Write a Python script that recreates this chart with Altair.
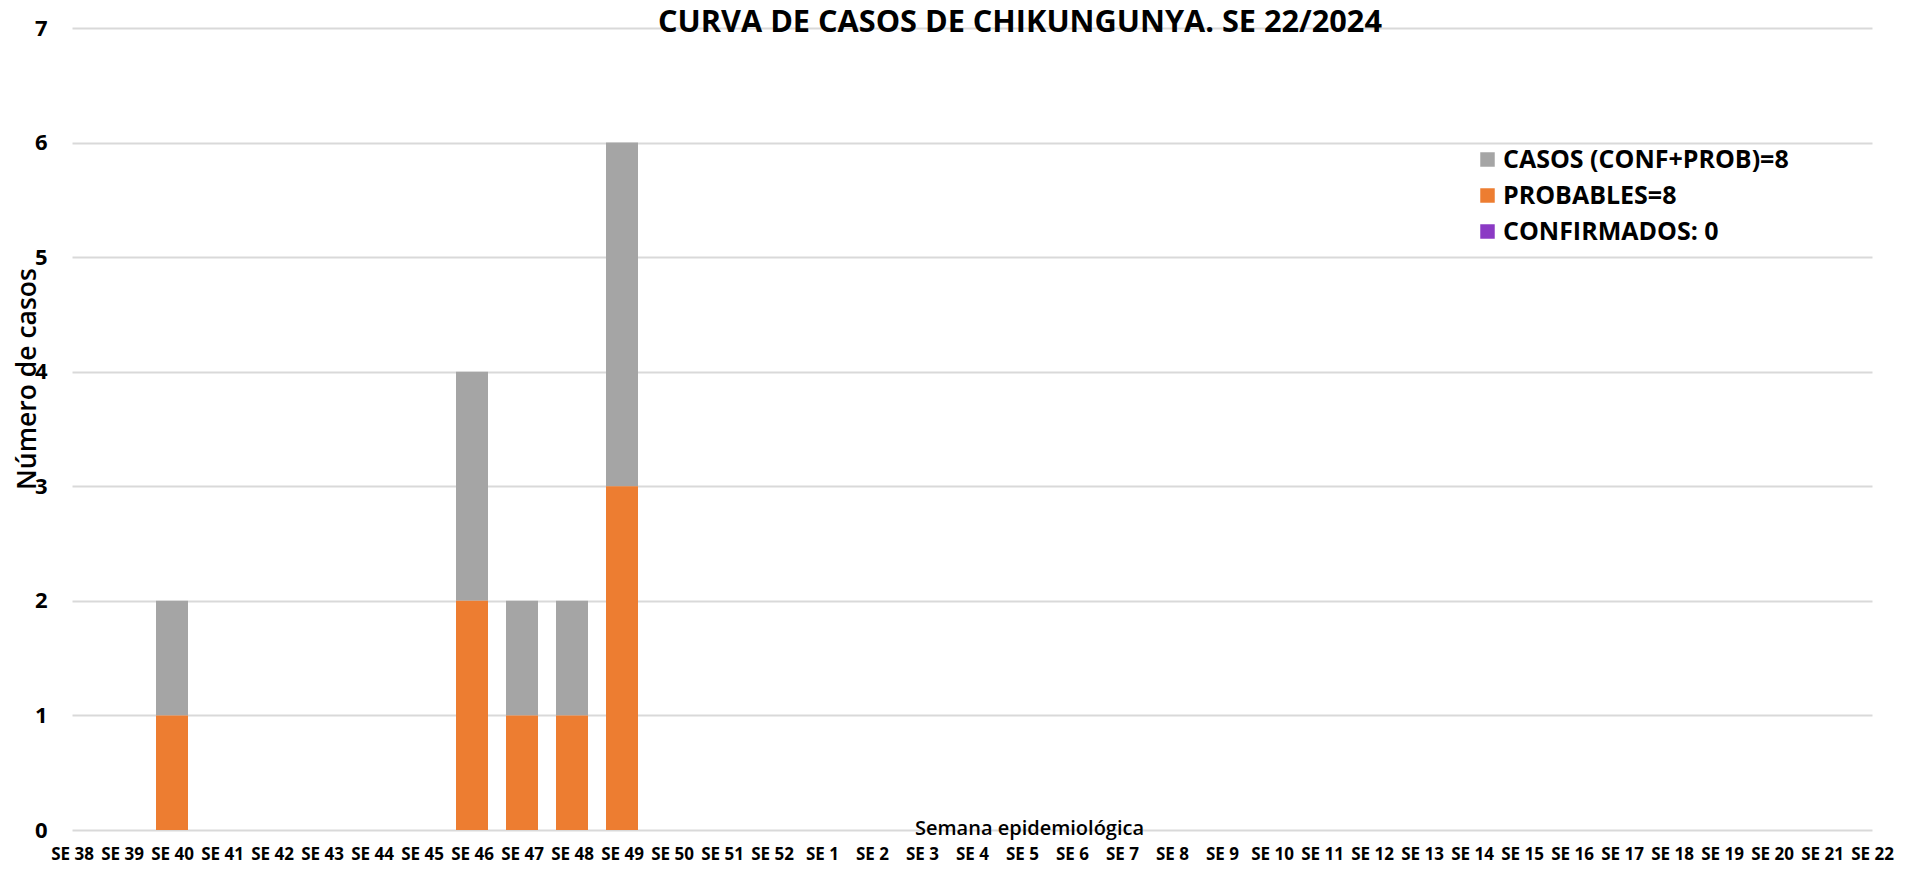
import altair as alt
import pandas as pd

# ---- data ----
weeks = ["SE 38", "SE 39", "SE 40", "SE 41", "SE 42", "SE 43", "SE 44", "SE 45",
         "SE 46", "SE 47", "SE 48", "SE 49", "SE 50", "SE 51", "SE 52",
         "SE 1", "SE 2", "SE 3", "SE 4", "SE 5", "SE 6", "SE 7", "SE 8", "SE 9",
         "SE 10", "SE 11", "SE 12", "SE 13", "SE 14", "SE 15", "SE 16", "SE 17",
         "SE 18", "SE 19", "SE 20", "SE 21", "SE 22"]
probables = [0, 0, 1, 0, 0, 0, 0, 0, 2, 1, 1, 3, 0, 0, 0,
             0, 0, 0, 0, 0, 0, 0, 0, 0, 0, 0, 0, 0, 0, 0, 0, 0, 0, 0, 0, 0, 0]
casos = [0, 0, 1, 0, 0, 0, 0, 0, 2, 1, 1, 3, 0, 0, 0,
         0, 0, 0, 0, 0, 0, 0, 0, 0, 0, 0, 0, 0, 0, 0, 0, 0, 0, 0, 0, 0, 0]
confirmados = [0] * 37

series_names = ["CASOS (CONF+PROB)=8", "PROBABLES=8", "CONFIRMADOS: 0"]
series_colors = ["#A5A5A5", "#ED7D31", "#8B3AC4"]
stack_rank = {"CONFIRMADOS: 0": 0, "PROBABLES=8": 1, "CASOS (CONF+PROB)=8": 2}

rows = []
for name, vals in zip(series_names, [casos, probables, confirmados]):
    for w, v in zip(weeks, vals):
        rows.append({"week": w, "serie": name, "value": v, "rank": stack_rank[name]})
df = pd.DataFrame(rows)

FONT = "Open Sans"

chart = alt.Chart(df).mark_bar(size=32).encode(
    x=alt.X("week:N", sort=weeks,
            scale=alt.Scale(type="point", padding=0, round=False),
            axis=alt.Axis(labelAngle=0, labelOverlap=False, domain=False, ticks=False,
                          grid=False, labelFont=FONT, labelFontSize=17,
                          labelFontWeight="bold", labelColor="#000000", labelPadding=16,
                          title="Semana epidemiológica", titleFont=FONT, titleFontSize=20,
                          titleFontWeight=600, titleColor="#000000",
                          titleAlign="center", titleBaseline="alphabetic",
                          titleX=957, titleY=4)),
    y=alt.Y("value:Q", stack="zero",
            scale=alt.Scale(domain=[0, 7], nice=False, zero=True),
            axis=alt.Axis(values=[0, 1, 2, 3, 4, 5, 6, 7], format="d",
                          grid=True, gridColor="#D9D9D9", gridWidth=1.8,
                          domain=False, ticks=False,
                          labelFont=FONT, labelFontSize=22, labelFontWeight="bold",
                          labelColor="#000000", labelPadding=25,
                          title="Número de casos", titleFont=FONT, titleFontSize=26.5,
                          titleFontWeight=600, titleColor="#000000",
                          titleAngle=270, titleAlign="center", titleBaseline="middle",
                          titleX=-45, titleY=350.5)),
    color=alt.Color("serie:N",
                    scale=alt.Scale(domain=series_names, range=series_colors),
                    legend=alt.Legend(title=None, orient="none", legendX=1403, legendY=119,
                                      symbolType="square", symbolSize=210, symbolStrokeWidth=0,
                                      labelFont=FONT, labelFontSize=25, labelFontWeight="bold",
                                      labelColor="#000000", labelOffset=3, rowPadding=10,
                                      labelLimit=400)),
    order=alt.Order("rank:Q", sort="ascending"),
).properties(
    width=1800, height=802,
    autosize=alt.AutoSizeParams(type="none"),
    padding={"left": 64, "top": 20, "right": 30, "bottom": 33},
    background="#FFFFFF",
    title=alt.TitleParams("CURVA DE CASOS DE CHIKUNGUNYA. SE 22/2024",
                          font=FONT, fontSize=30.7, fontWeight="bold", color="#000000",
                          anchor="middle", dx=48, baseline="alphabetic", dy=50),
).configure_view(stroke=None)

chart.save("out.html", embed_options={"renderer": "svg", "actions": False})
